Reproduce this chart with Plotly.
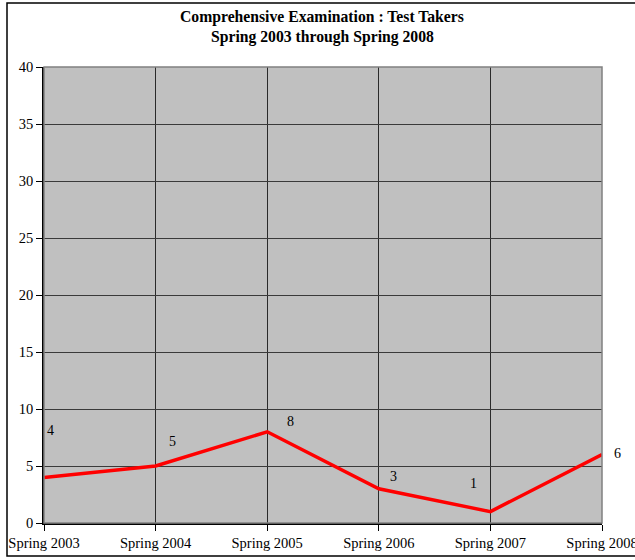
import plotly.graph_objects as go

categories = ["Spring 2003", "Spring 2004", "Spring 2005", "Spring 2006", "Spring 2007", "Spring 2008"]
test_takers = [4, 5, 8, 3, 1, 6]
y_ticks = [0, 5, 10, 15, 20, 25, 30, 35, 40]

# label offsets (pixels) for the data labels
label_dx = [6, 17, 23, 15, -17, 15]
label_dy = [47, 25, 10, 12, 28, 1]

x_idx = list(range(len(categories)))

L, R, T, B = 44, 33, 67, 37
PW, PH = 635 - L - R, 560 - T - B

def px(xp):
    return (xp - L) / PW

def py(yp):
    return (560 - B - yp) / PH

fig = go.Figure()
fig.add_trace(go.Scatter(
    x=x_idx, y=test_takers, mode="lines",
    line=dict(color="#FF0000", width=3.5),
    hoverinfo="skip", showlegend=False, cliponaxis=False,
))

for xi, v, dx, dy in zip(x_idx, test_takers, label_dx, label_dy):
    fig.add_annotation(x=xi, y=v, text=str(v), showarrow=False,
                       xshift=dx, yshift=dy,
                       font=dict(family="Liberation Serif", size=14, color="black"))

title_lines = ["Comprehensive Examination : Test Takers", "Spring 2003 through Spring 2008"]
for i, t in enumerate(title_lines):
    fig.add_annotation(xref="paper", yref="paper", x=px(322), y=py(17 + 20 * i),
                       text="<b>" + t + "</b>", showarrow=False,
                       xanchor="center", yanchor="middle",
                       font=dict(family="Liberation Serif", size=15.7, color="black"))

# outer chart border
fig.add_shape(type="rect", xref="paper", yref="paper",
              x0=px(7), x1=px(645), y0=py(556), y1=py(3),
              line=dict(color="black", width=1.5), fillcolor="rgba(0,0,0,0)")
# plot area border (gray top/right)
fig.add_shape(type="rect", xref="paper", yref="paper", x0=0, x1=1, y0=0, y1=1,
              line=dict(color="#808080", width=1.5), fillcolor="rgba(0,0,0,0)")

fig.update_layout(
    width=635, height=560,
    margin=dict(l=L, r=R, t=T, b=B, autoexpand=False),
    paper_bgcolor="white", plot_bgcolor="#C0C0C0",
    font=dict(family="Liberation Serif", size=14, color="black"),
    xaxis=dict(range=[0, 5], tickmode="array", tickvals=x_idx, ticktext=categories,
               showgrid=True, gridcolor="#2a2a2a", gridwidth=1,
               showline=True, linecolor="black", linewidth=1.5,
               ticks="outside", ticklen=6, tickcolor="black", zeroline=False,
               automargin=False, ticklabeloverflow="allow",
               tickfont=dict(size=14.5), fixedrange=True),
    yaxis=dict(range=[0, 40], tickmode="array", tickvals=y_ticks,
               showgrid=True, gridcolor="#3a3a3a", gridwidth=1.3,
               showline=True, linecolor="black", linewidth=1.5,
               ticks="outside", ticklen=6, tickcolor="black", zeroline=False,
               automargin=False, ticklabeloverflow="allow",
               tickfont=dict(size=14.5), fixedrange=True),
)

fig.write_html("out.html", config={"displayModeBar": False},
               post_script="document.body.style.margin='0';document.body.style.overflow='hidden';")
